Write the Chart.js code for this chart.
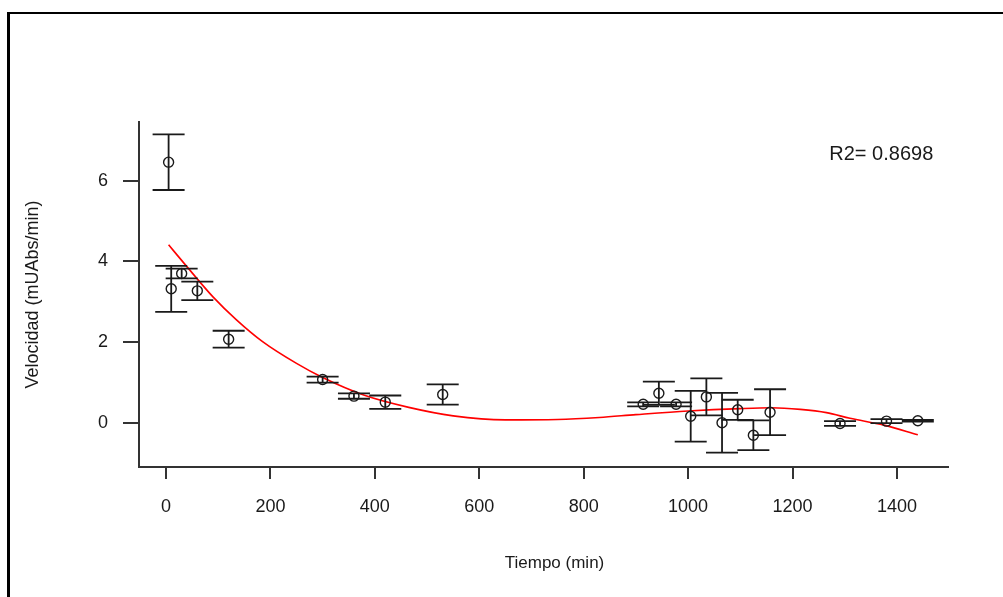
<!DOCTYPE html>
<html>
<head>
<meta charset="utf-8">
<script src="https://cdn.jsdelivr.net/npm/chart.js@4.4.1/dist/chart.umd.min.js"></script>
<style>
  html, body { margin: 0; padding: 0; background: #fff; overflow: hidden; }
  #wrap { position: relative; width: 1003px; height: 597px; }
  #wrap canvas { position: absolute; left: 0; top: 0; }
  #frame {
    position: absolute; left: 7px; top: 12px; width: 1020px; height: 620px;
    border-left: 3px solid #000; border-top: 2px solid #000; pointer-events: none;
  }
</style>
</head>
<body>
<div id="wrap">
  <canvas id="chart" width="1003" height="597"></canvas>
  <div id="frame"></div>
</div>
<script>
// Measured reaction rates over time (mean and standard deviation)
const times   = [5, 10, 30, 60, 120, 300, 360, 420, 530, 914, 944, 977, 1005, 1035, 1065, 1095, 1125, 1157, 1291, 1380, 1440];
const rates   = [6.46, 3.32, 3.70, 3.27, 2.07, 1.07, 0.66, 0.51, 0.70, 0.456, 0.73, 0.456, 0.16, 0.64, 0.00, 0.32, -0.31, 0.26, -0.02, 0.04, 0.05];
const rateSd  = [0.69, 0.57, 0.12, 0.23, 0.21, 0.075, 0.066, 0.165, 0.25, 0.05, 0.29, 0.05, 0.63, 0.46, 0.74, 0.25, 0.37, 0.57, 0.06, 0.05, 0.02];

// Fitted trend curve, sampled along the time axis
const fitTimes = [5, 40, 90, 135, 185, 250, 300, 380, 465, 550, 650, 750, 830, 900, 1000, 1100, 1160, 1215, 1265, 1310, 1375, 1440];
const fitRates = [4.41, 3.87, 3.12, 2.55, 2.01, 1.47, 1.12, 0.68, 0.38, 0.17, 0.07, 0.08, 0.13, 0.20, 0.29, 0.35, 0.37, 0.33, 0.25, 0.11, -0.06, -0.30];

const xTicks = [0, 200, 400, 600, 800, 1000, 1200, 1400];
const yTicks = [0, 2, 4, 6];
const xTitle = 'Tiempo (min)';
const yTitle = 'Velocidad (mUAbs/min)';
const r2Label = 'R2= 0.8698';

const FONT = "'Liberation Sans', Arial, sans-serif";
const INK = '#1a1a1a';
const AXIS = '#333333';

// Vertical error bars with flat caps, drawn on the chart's scales
const errorBars = {
  id: 'errorBars',
  afterDatasetsDraw(chart, args, opts) {
    const { ctx, scales: { x, y } } = chart;
    ctx.save();
    ctx.strokeStyle = opts.color;
    ctx.lineWidth = opts.lineWidth;
    times.forEach((t, i) => {
      const px = x.getPixelForValue(t);
      const hi = y.getPixelForValue(rates[i] + rateSd[i]);
      const lo = y.getPixelForValue(rates[i] - rateSd[i]);
      ctx.beginPath();
      ctx.moveTo(px, hi); ctx.lineTo(px, lo);
      ctx.moveTo(px - opts.cap, hi); ctx.lineTo(px + opts.cap, hi);
      ctx.moveTo(px - opts.cap, lo); ctx.lineTo(px + opts.cap, lo);
      ctx.stroke();
    });
    ctx.restore();
  }
};

// Goodness-of-fit note in the upper right, plus the time-axis caption
const annotations = {
  id: 'annotations',
  afterDraw(chart, args, opts) {
    const { ctx, chartArea, scales: { x, y } } = chart;
    ctx.save();
    ctx.fillStyle = opts.color;
    ctx.textAlign = 'center';
    ctx.textBaseline = 'middle';
    ctx.font = opts.noteFont;
    ctx.fillText(r2Label, x.getPixelForValue(opts.noteAt[0]), y.getPixelForValue(opts.noteAt[1]));
    ctx.font = opts.titleFont;
    ctx.fillText(xTitle, (chartArea.left + chartArea.right) / 2 + opts.titleShift, chartArea.bottom + opts.titleDrop);
    ctx.restore();
  }
};

new Chart(document.getElementById('chart'), {
  type: 'scatter',
  data: {
    datasets: [
      {
        label: 'Velocidad',
        data: times.map((t, i) => ({ x: t, y: rates[i] })),
        pointStyle: 'circle',
        pointRadius: 5,
        pointHoverRadius: 5,
        pointBorderWidth: 1.4,
        pointBorderColor: INK,
        pointBackgroundColor: 'rgba(0,0,0,0)',
        showLine: false,
        order: 1
      },
      {
        label: 'Ajuste',
        data: fitTimes.map((t, i) => ({ x: t, y: fitRates[i] })),
        showLine: true,
        borderColor: '#ff0000',
        borderWidth: 1.6,
        pointRadius: 0,
        cubicInterpolationMode: 'monotone',
        fill: false,
        order: 2
      }
    ]
  },
  options: {
    responsive: false,
    animation: false,
    events: [],
    layout: { padding: { top: 122, right: 55, left: 0, bottom: 0 } },
    plugins: {
      legend: { display: false },
      tooltip: { enabled: false },
      errorBars: { color: INK, lineWidth: 1.8, cap: 16 },
      annotations: {
        color: INK,
        noteFont: "20px " + FONT, noteAt: [1370, 6.64],
        titleFont: "17px " + FONT, titleShift: 11, titleDrop: 96
      }
    },
    scales: {
      x: {
        type: 'linear',
        min: -51.7,
        max: 1497.8,
        afterBuildTicks: s => { s.ticks = xTicks.map(v => ({ value: v })); },
        afterFit: s => { s.height = 130; },
        border: { display: true, color: AXIS, width: 2 },
        grid: { drawOnChartArea: false, drawTicks: true, tickLength: 12, color: AXIS, lineWidth: 2 },
        ticks: { font: { family: FONT, size: 18 }, color: INK, padding: 17, maxRotation: 0, autoSkip: false, callback: v => String(v) },
        title: { display: false }
      },
      y: {
        type: 'linear',
        min: -1.098,
        max: 7.456,
        afterBuildTicks: s => { s.ticks = yTicks.map(v => ({ value: v })); },
        afterFit: s => { s.width = 139; },
        border: { display: true, color: AXIS, width: 2 },
        grid: { drawOnChartArea: false, drawTicks: true, tickLength: 16, color: AXIS, lineWidth: 2 },
        ticks: { font: { family: FONT, size: 18 }, color: INK, padding: 15, callback: v => String(v) },
        title: { display: true, text: yTitle, font: { family: FONT, size: 18 }, color: INK, padding: { top: 22, bottom: 0 } }
      }
    }
  },
  plugins: [errorBars, annotations]
});
</script>
</body>
</html>
